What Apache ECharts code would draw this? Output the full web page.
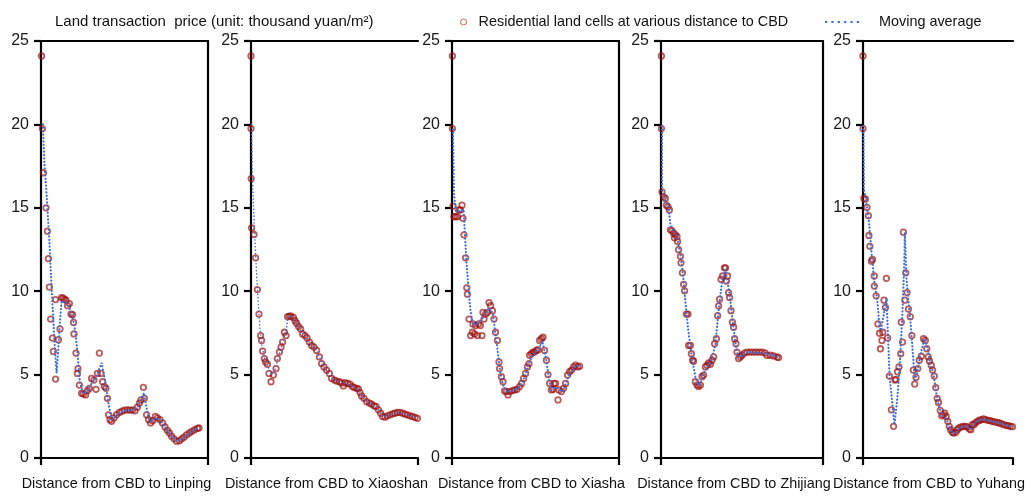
<!DOCTYPE html>
<html>
<head>
<meta charset="utf-8">
<title>Land transaction price by distance to CBD</title>
<script src="https://cdn.jsdelivr.net/npm/echarts@6/dist/echarts.min.js"></script>
<style>
html,body{margin:0;padding:0;background:#fff;}
#chart{width:1028px;height:496px;}
</style>
</head>
<body>
<div id="chart"></div>
<script>
// districts, one panel each
const districts = ["Linping", "Xiaoshan", "Xiasha", "Zhijiang", "Yuhang"];
const cellName = "Residential land cells at various distance to CBD";
const avgName = "Moving average";

// [distance, price] for the land cells and the moving average, per district
const linpingCells = [[0.3,24.1],[0.7,19.75],[1.2,17.1],[2.5,15.0],[3.2,13.6],[3.7,11.95],[4.2,10.25],[4.8,8.33],[5.7,7.19],[6.2,6.39],[7.3,4.73],[7.3,9.5],[8.7,7.09],[9.5,7.74],[10.3,9.62],[11,9.58],[11.7,9.52],[12.5,9.46],[13.3,9.13],[14.2,9.26],[15,8.63],[15.8,8.59],[16.3,8.13],[16.5,7.44],[17.5,6.29],[18.2,5.07],[18.5,5.36],[19.2,4.37],[20.3,3.88],[21.2,3.84],[22.3,3.78],[23.2,4.04],[24.2,4.18],[25.3,4.77],[26.5,4.67],[27.5,4.12],[28.2,5.07],[29.2,6.29],[30,5.07],[30.8,4.57],[31.7,4.28],[32.5,4.18],[33.2,3.58],[33.8,2.59],[34.5,2.3],[35.3,2.2],[36.5,2.4],[37.8,2.6],[39.2,2.73],[40.5,2.81],[41.8,2.87],[43.2,2.89],[44.5,2.87],[45.8,2.89],[47,2.83],[48.2,3.05],[49.2,3.29],[50,3.48],[51.2,4.24],[51.7,3.58],[52.8,2.59],[53.8,2.3],[54.8,2.1],[55.8,2.24],[57.2,2.49],[58.2,2.4],[59.5,2.3],[60.8,2.1],[62,1.86],[63.2,1.66],[64.2,1.5],[65.3,1.31],[66.5,1.15],[67.8,1.01],[69.2,1.03],[70.3,1.15],[71.5,1.25],[72.8,1.39],[74.2,1.5],[75.5,1.6],[76.8,1.7],[78.2,1.78],[79,1.8]];
const linpingAvg = [[0.9,20.0],[1.7,17.7],[2.8,15.8],[4.2,13.0],[4.5,12.2],[5.3,10.2],[6.2,8.2],[7,6.45],[7.8,5.1],[8.7,6.65],[9.5,8.23],[10.3,9.42],[11.2,9.5],[12.8,9.3],[14.5,8.93],[16.2,8.23],[17.5,7.25],[18.7,5.66],[19.5,4.47],[21.2,3.88],[23.2,4.0],[25.3,4.47],[27.2,4.75],[29,5.3],[30.3,5.7],[32,4.67],[33.7,3.29],[35.3,2.3],[37,2.45],[39,2.7],[42,2.85],[46,2.87],[48.5,3.1],[50,3.5],[51.5,3.9],[52.5,3.2],[53.7,2.4],[55,2.2],[57,2.4],[59.5,2.3],[62,1.86],[65.3,1.31],[67.8,1.02],[70.3,1.13],[74.2,1.48],[77,1.7],[79,1.8]];

const xiaoshanCells = [[0,24.1],[0,19.75],[0.1,16.75],[0.3,13.8],[1.5,13.4],[2.3,12.0],[3.2,10.1],[4,8.63],[4.8,7.34],[5.3,7.05],[5.8,6.41],[6.7,5.96],[7.3,5.76],[8.2,5.62],[9,5.07],[10,4.57],[11.2,4.97],[12.5,5.36],[13.2,5.96],[14.2,6.35],[15,6.65],[15.8,6.95],[16.7,7.54],[17.5,7.34],[18.3,8.47],[19.2,8.51],[20,8.51],[21.2,8.43],[22,8.23],[22.8,8.08],[23.8,7.88],[24.8,7.74],[25.8,7.44],[27,7.34],[28,7.2],[29.2,6.95],[30.3,6.75],[31.5,6.65],[32.8,6.45],[34.2,6.06],[35.3,5.66],[36.5,5.46],[37.8,5.27],[39.2,5.07],[40.3,4.77],[41.7,4.67],[42.8,4.61],[44.2,4.57],[45.3,4.5],[46.2,4.32],[47,4.51],[48.3,4.47],[49.5,4.43],[50.7,4.28],[51.7,4.22],[52.8,4.18],[53.7,4.15],[54.5,3.92],[55.3,3.72],[56.5,3.58],[57.8,3.38],[59.2,3.29],[60.3,3.23],[61.5,3.13],[62.5,3.09],[63.7,2.89],[64.8,2.69],[65.8,2.49],[67,2.45],[68.2,2.53],[69.5,2.59],[70.8,2.65],[72,2.69],[73.2,2.73],[74.5,2.73],[75.8,2.69],[77,2.63],[78.2,2.59],[79.5,2.53],[80.7,2.49],[82,2.43],[83.2,2.38]];
const xiaoshanAvg = [[0.2,20.0],[0.8,16.5],[1.8,13.5],[2.8,11.0],[3.8,9.0],[4.6,7.6],[5.6,6.6],[7,5.9],[8.5,5.5],[9.5,5.2],[10.5,5.0],[12,5.3],[13.5,6.0],[15,6.6],[16.5,7.2],[17.5,7.6],[18.5,8.45],[20,8.5],[22,8.25],[24,7.85],[26,7.45],[28,7.15],[30,6.8],[32.5,6.5],[34.5,6.0],[36.5,5.45],[39,5.05],[41,4.72],[44,4.58],[47,4.47],[50,4.35],[53,4.18],[55,3.8],[57,3.5],[60,3.25],[62.5,3.08],[64.5,2.75],[66.5,2.47],[69,2.56],[72,2.69],[74.5,2.73],[77,2.63],[80,2.52],[83.2,2.38]];

const xiashaCells = [[0.2,24.1],[0.2,19.75],[0.5,15.1],[1,14.47],[1.8,14.47],[2.7,14.47],[3.5,14.87],[4.2,14.87],[5,15.16],[5.5,14.37],[6,13.38],[6.8,12.0],[7.4,10.2],[7.7,9.82],[8.5,8.33],[9.3,7.34],[10.2,7.54],[10.5,8.04],[11.3,7.44],[11.8,7.94],[12.7,7.34],[13.3,8.04],[14.2,7.94],[15,7.34],[15.5,8.73],[16,8.33],[16.8,8.63],[17.7,8.73],[18.5,9.32],[19.3,9.13],[20.2,8.83],[21,8.33],[21.8,7.54],[22.7,7.05],[23.5,5.76],[23.8,5.36],[24.7,4.87],[25.5,4.57],[26.3,4.02],[27.2,3.98],[28,3.78],[28.8,3.98],[30.2,4.04],[31.3,4.08],[32.5,4.12],[33.8,4.28],[34.8,4.47],[35.8,4.77],[36.8,5.07],[37.7,5.46],[38.5,5.66],[38.8,6.16],[39.7,6.25],[40.5,6.35],[41.3,6.35],[42.2,6.45],[43,6.49],[43.8,7.05],[44.7,7.15],[45.5,7.24],[46.3,6.45],[47.2,5.86],[48,5.0],[48.8,4.47],[49.7,4.08],[50.5,4.12],[51,4.47],[51.8,4.47],[53,3.48],[53.5,4.08],[54.7,3.98],[55.8,4.18],[56.8,4.47],[57.8,4.97],[58.8,5.17],[59.8,5.27],[60.8,5.46],[61.8,5.56],[62.8,5.46],[63.8,5.5]];
const xiashaAvg = [[0.5,19.7],[1,15.8],[2,14.8],[4,14.8],[5.8,14.9],[6.3,13.8],[7.2,11.8],[8.5,9.8],[9.3,8.8],[10.5,8.0],[12.2,8.0],[13.8,8.2],[15.5,8.4],[17.2,8.8],[18.8,9.0],[20.5,8.6],[21.8,7.4],[23,6.25],[24.2,5.07],[25.5,4.4],[27.2,3.98],[30,4.02],[33,4.2],[35,4.5],[37,5.1],[38.5,5.7],[40,6.1],[43,6.55],[44.7,6.85],[45.2,7.0],[47.2,5.86],[48.5,4.67],[49.7,4.08],[51,4.2],[53,4.18],[55.5,3.98],[57.2,4.57],[58.8,5.07],[62.2,5.56],[63.8,5.5]];

const zhijiangCells = [[0.2,24.1],[0.2,19.75],[0.5,15.95],[1.3,15.66],[2.2,15.56],[2.7,15.16],[3.5,15.06],[4.2,14.87],[4.7,13.68],[5.5,13.62],[6.3,13.48],[6.7,13.2],[7.2,13.38],[8,13.28],[8.3,12.98],[8.8,12.49],[9.7,12.09],[10,11.7],[10.7,11.1],[11.3,10.41],[11.8,10.02],[12.7,8.63],[13.5,8.63],[13.8,6.75],[14.7,6.75],[15.2,6.25],[15.8,5.86],[16.3,5.8],[17.2,4.57],[18,4.37],[18.8,4.28],[19.7,4.37],[20.5,4.87],[21.3,4.97],[22.2,5.46],[23,5.56],[23.8,5.7],[24.7,5.62],[25.5,5.86],[26.3,6.06],[26.8,6.85],[27.7,7.15],[28.3,8.53],[28.8,9.12],[29.3,9.52],[30,10.71],[30.8,10.91],[31.7,11.4],[32.3,11.4],[32.7,10.61],[33.3,10.91],[33.8,9.92],[34.3,9.62],[35,8.83],[35.7,8.14],[36.3,7.84],[36.8,7.15],[37.5,6.85],[38,6.35],[38.8,5.96],[39.7,6.06],[40.5,6.16],[41.7,6.29],[43,6.35],[44.5,6.35],[46,6.35],[47.5,6.35],[49,6.35],[50.5,6.35],[52,6.3],[53,6.16],[54.7,6.16],[56.3,6.12],[58,6.06],[58.8,6.02]];
const zhijiangAvg = [[0.5,19.9],[0.5,16.1],[2.2,15.4],[3.8,15.0],[4.7,14.0],[6.3,13.6],[8,13.3],[9.7,12.2],[11,11.0],[12.2,9.4],[13.5,7.8],[14.7,6.65],[16,5.66],[17.2,4.87],[18.5,4.37],[19.7,4.47],[21.3,5.07],[23.8,5.56],[25.5,5.96],[27.2,6.85],[28.8,8.83],[30.5,10.6],[32.2,11.3],[33,11.2],[34.3,9.82],[35.8,8.23],[37.2,6.95],[38.3,6.16],[39.7,6.06],[43,6.35],[53,6.25],[58.8,6.06]];

const yuhangCells = [[0,24.1],[0,19.75],[0.5,15.56],[1.3,15.52],[2.2,15.02],[3,14.53],[3.3,13.34],[3.8,12.69],[4.7,11.8],[5.3,11.9],[6.3,10.91],[6.3,10.31],[7.3,9.72],[8.3,8.04],[9.2,7.48],[9.7,6.55],[10.5,7.05],[11,7.54],[11.7,9.46],[12.5,9.03],[13,10.77],[13.7,7.2],[14.7,4.91],[15.8,2.89],[17,1.9],[17.8,4.67],[18.3,4.71],[19.2,5.17],[20,5.46],[21,6.25],[21.3,8.14],[22,6.95],[22.5,13.54],[23.3,9.46],[23.8,11.1],[24.5,9.92],[25.3,8.93],[26.3,8.47],[27.2,7.34],[28,5.27],[28.8,4.43],[29.5,4.83],[30.5,5.36],[31.3,5.86],[32.5,6.1],[33.7,7.15],[34.7,7.05],[35.5,6.55],[36.3,6.06],[37,5.82],[38,5.56],[38.7,5.27],[39.7,4.91],[40.5,4.22],[41.3,3.58],[42,3.33],[43,2.85],[43.8,2.53],[44.7,2.59],[45.5,2.69],[46.3,2.49],[47.2,2.2],[48,1.9],[48.8,1.7],[49.7,1.54],[50.5,1.5],[51.7,1.54],[52.5,1.7],[53.3,1.8],[54.7,1.86],[55.8,1.9],[57,1.9],[58,1.86],[59.2,1.74],[60,1.7],[60.8,2.0],[61.7,2.0],[62.5,2.1],[63.7,2.2],[64.7,2.25],[65.8,2.3],[67,2.34],[68.3,2.3],[69.7,2.26],[70.8,2.24],[72,2.2],[73.3,2.16],[74.7,2.14],[75.8,2.1],[77,2.06],[78.3,2.0],[79.7,1.96],[80.8,1.94],[82,1.9],[83.2,1.88]];
const yuhangAvg = [[0.2,19.9],[0.5,16.15],[1.7,15.4],[3.3,14.2],[5,12.0],[6.3,10.6],[8,9.4],[9.2,7.84],[10,7.64],[10.8,7.74],[12.2,9.0],[13,9.6],[13.5,8.5],[14.8,4.87],[16.7,2.89],[17.5,2.0],[19.2,3.68],[20.8,6.25],[22,8.83],[23,11.8],[23.3,13.54],[24.2,10.8],[25.3,9.42],[26.7,7.84],[28,5.86],[28.8,4.67],[30,5.07],[31.7,6.06],[34.2,7.15],[35.8,6.65],[37.5,5.66],[39.2,5.07],[40.8,3.88],[42.5,2.99],[44.2,2.59],[46.7,2.3],[48.3,1.8],[50,1.5],[52,1.55],[53.5,1.8],[56,1.9],[58,1.86],[60,1.75],[61,2.0],[63.5,2.2],[66,2.3],[67,2.34],[70,2.25],[75,2.12],[80,1.95],[83.2,1.88]];

const cells = [linpingCells, xiaoshanCells, xiashaCells, zhijiangCells, yuhangCells];
const avgs = [linpingAvg, xiaoshanAvg, xiashaAvg, zhijiangAvg, yuhangAvg];

// layout of the five panels
const font = "Liberation Sans, Arial, Helvetica, sans-serif";
const panelLeft = [41, 251, 452, 661, 863];
const panelWidth = [167, 167, 167, 162, 167];
const rightBorder = [true, false, true, true, false];
const nameShift = [8, 8, 4, 8, 9];
const avgWidth = [2.2, 1.6, 2.2, 2.2, 2.2];
const blue = "#3a6fdc";

// six dots for the legend sample of the moving average
const dotIcon = "path://M0,0h2.2v2.2h-2.2z M6.4,0h2.2v2.2h-2.2z M12.8,0h2.2v2.2h-2.2z M19.2,0h2.2v2.2h-2.2z M25.6,0h2.2v2.2h-2.2z M32,0h2.2v2.2h-2.2z";

let myChart = echarts.init(document.getElementById("chart"));

let grids = [], xAxes = [], yAxes = [], series = [];
const black = {color: "#000", width: 2.2};

districts.forEach(function (name, i) {
    grids.push({left: panelLeft[i], top: 41, width: panelWidth[i], height: 421});
    let xmax = panelWidth[i] / 2;
    let xIdx = xAxes.length;
    //bottom axis, ticks only at both ends
    xAxes.push({
        gridIndex: i, type: "value", min: 0, max: xmax, interval: xmax, position: "bottom",
        axisLine: {onZero: false, lineStyle: black},
        axisTick: {length: 7, lineStyle: black},
        axisLabel: {show: false}, splitLine: {show: false},
        name: "Distance from CBD to " + name, nameLocation: "middle", nameGap: 19,
        nameTextStyle: {fontSize: 14.4, color: "#111", fontFamily: font, padding: [0, nameShift[i] * 2, 0, 0]}
    });
    //top border
    xAxes.push({
        gridIndex: i, type: "value", min: 0, max: xmax, position: "top",
        axisLine: {onZero: false, lineStyle: black},
        axisTick: {show: false}, axisLabel: {show: false}, splitLine: {show: false}
    });
    let yIdx = yAxes.length;
    yAxes.push({
        gridIndex: i, type: "value", min: 0, max: 25, interval: 5, position: "left",
        axisLine: {show: true, onZero: false, lineStyle: black},
        axisTick: {show: true, length: 7, lineStyle: black},
        axisLabel: {fontSize: 16, color: "#1a1a1a", margin: 12, fontFamily: font},
        splitLine: {show: false}
    });
    if (rightBorder[i]) {
        yAxes.push({
            gridIndex: i, type: "value", min: 0, max: 25, position: "right",
            axisLine: {show: true, onZero: false, lineStyle: black},
            axisTick: {show: false}, axisLabel: {show: false}, splitLine: {show: false}
        });
    }
    series.push({
        name: cellName, type: "scatter", xAxisIndex: xIdx, yAxisIndex: yIdx,
        data: cells[i], symbol: "circle", symbolSize: 5.5, z: 2,
        itemStyle: {color: "rgba(255,255,255,0)", borderColor: "rgba(155,14,14,0.85)", borderWidth: 1.8}
    });
    series.push({
        name: avgName, type: "line", xAxisIndex: xIdx, yAxisIndex: yIdx,
        data: avgs[i], showSymbol: false, symbol: "none", z: 3,
        lineStyle: {color: blue, width: avgWidth[i], type: [0.1, 3.3], cap: "round"}
    });
});

myChart.setOption({
    animation: false,
    title: {
        text: "Land transaction  price (unit: thousand yuan/m²)",
        left: 50, top: 9,
        textStyle: {fontSize: 15, fontWeight: "normal", color: "#111", fontFamily: font}
    },
    legend: [
        {
            left: 455, top: 10, itemWidth: 6, itemHeight: 6, selectedMode: false,
            data: [{name: cellName, icon: "circle", itemStyle: {color: "#fff", borderColor: "#c85a5a", borderWidth: 1.2}}],
            textStyle: {fontSize: 14.4, color: "#111", fontFamily: font, padding: [0, 0, 0, 7]}
        },
        {
            left: 820, top: 10, itemWidth: 34, itemHeight: 2.2, selectedMode: false,
            data: [{name: avgName, icon: dotIcon, itemStyle: {color: blue}}],
            textStyle: {fontSize: 14.4, color: "#111", fontFamily: font, padding: [0, 0, 0, 15]}
        }
    ],
    grid: grids,
    xAxis: xAxes,
    yAxis: yAxes,
    series: series
});
</script>
</body>
</html>
